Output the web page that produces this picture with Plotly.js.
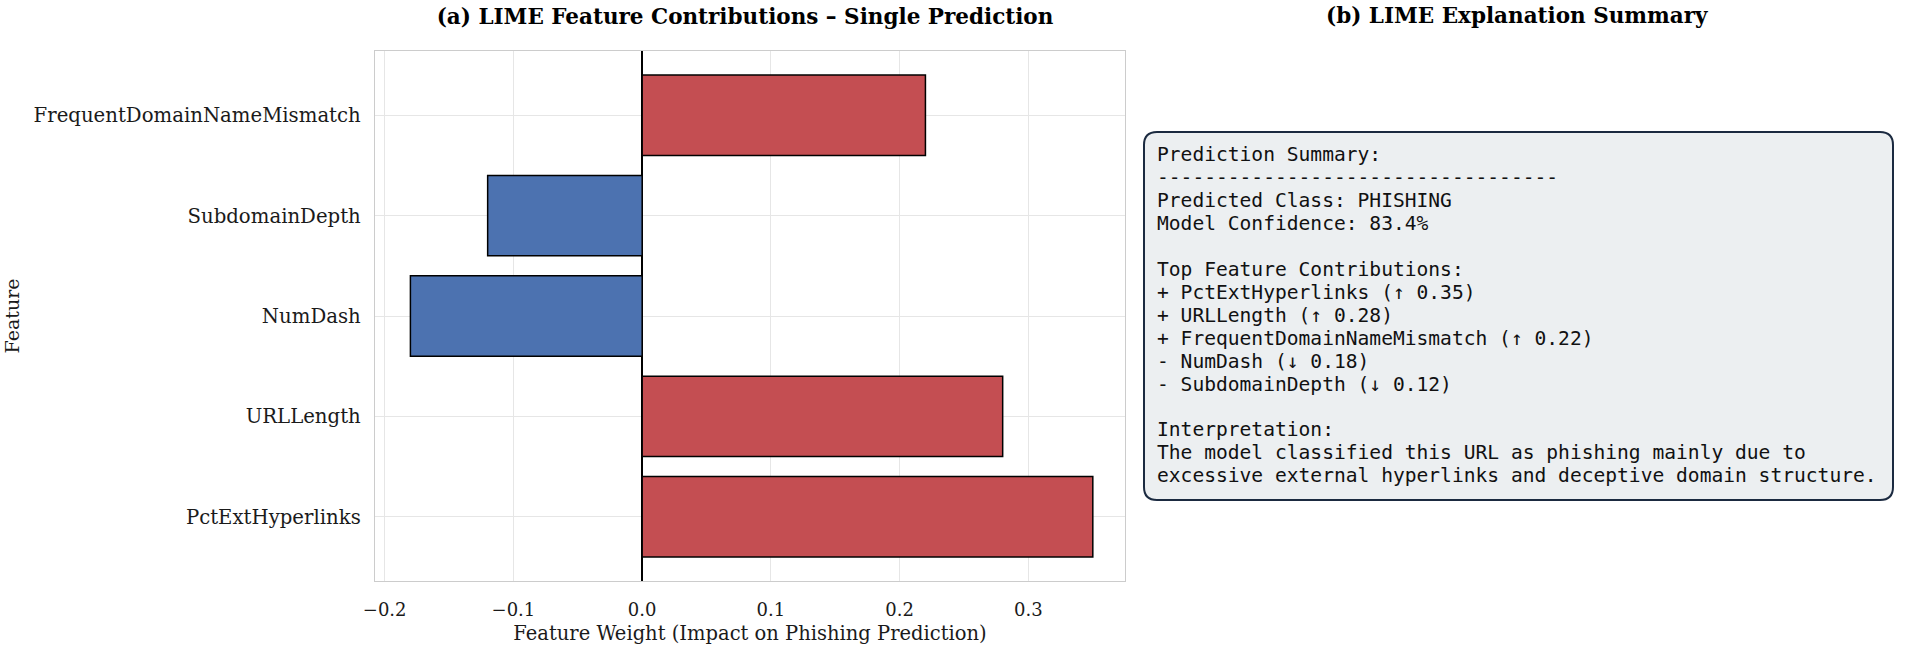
<!DOCTYPE html>
<html>
<head>
<meta charset="utf-8">
<script src="https://cdn.plot.ly/plotly-3.0.1.min.js"></script>
<style>html,body{margin:0;padding:0;background:#fff;}#chart{width:1905px;height:651px;}</style>
</head>
<body>
<div id="chart"></div>
<script>
// ---- data ----
const features = ['PctExtHyperlinks', 'URLLength', 'NumDash', 'SubdomainDepth', 'FrequentDomainNameMismatch'];
const weights = [0.35, 0.28, -0.18, -0.12, 0.22];
const xTickVals = [-0.2, -0.1, 0.0, 0.1, 0.2, 0.3];
const xTickText = ['\u22120.2', '\u22120.1', '0.0', '0.1', '0.2', '0.3'];
const summaryLines = [
  'Prediction Summary:',
  '----------------------------------',
  'Predicted Class: PHISHING',
  'Model Confidence: 83.4%',
  '',
  'Top Feature Contributions:',
  '+ PctExtHyperlinks (\u2191 0.35)',
  '+ URLLength (\u2191 0.28)',
  '+ FrequentDomainNameMismatch (\u2191 0.22)',
  '- NumDash (\u2193 0.18)',
  '- SubdomainDepth (\u2193 0.12)',
  '',
  'Interpretation:',
  'The model classified this URL as phishing mainly due to',
  'excessive external hyperlinks and deceptive domain structure.'
];

// ---- layout geometry (pixels) ----
const W = 1905, H = 651;
const PL = 375, PR = 1125, PT = 51, PB = 581;
const pw = PR - PL, ph = PB - PT;
const px2x = p => (p - PL) / pw;
const px2y = p => (PB - p) / ph;

const RED = '#C44E52', BLUE = '#4C72B0';
const serif = 'DejaVu Serif, serif';
const mono = 'DejaVu Sans Mono, monospace';

const trace = {
  type: 'bar',
  orientation: 'h',
  y: features,
  x: weights,
  width: 0.8,
  marker: {
    color: weights.map(v => v >= 0 ? RED : BLUE),
    line: {color: '#000', width: 1.5}
  },
  hoverinfo: 'x+y'
};

// rounded box shape
const bx0 = 1144, bx1 = 1893, by0 = 132, by1 = 500, r = 13;
function P(x, y) { return px2x(x).toFixed(5) + ',' + px2y(y).toFixed(5); }
const boxPath = 'M ' + P(bx0 + r, by0) + ' L ' + P(bx1 - r, by0) + ' Q ' + P(bx1, by0) + ' ' + P(bx1, by0 + r) +
  ' L ' + P(bx1, by1 - r) + ' Q ' + P(bx1, by1) + ' ' + P(bx1 - r, by1) +
  ' L ' + P(bx0 + r, by1) + ' Q ' + P(bx0, by1) + ' ' + P(bx0, by1 - r) +
  ' L ' + P(bx0, by0 + r) + ' Q ' + P(bx0, by0) + ' ' + P(bx0 + r, by0) + ' Z';

const annotations = [{
  text: '<b>(b) LIME Explanation Summary</b>',
  xref: 'paper', yref: 'paper', x: px2x(1517), y: px2y(16),
  xanchor: 'center', yanchor: 'middle', showarrow: false,
  font: {family: serif, size: 21.5, color: '#000'}
}];
const line0 = 155, lineStep = 22.9;
summaryLines.forEach((t, i) => {
  if (!t) return;
  annotations.push({
    text: t.replace(/ /g, '\u00a0'),
    xref: 'paper', yref: 'paper', x: px2x(1155), y: px2y(line0 + i * lineStep),
    xanchor: 'left', yanchor: 'middle', showarrow: false,
    font: {family: mono, size: 19.6, color: '#111'}
  });
});

const layout = {
  width: W, height: H,
  margin: {l: PL, r: W - PR, t: PT, b: H - PB, pad: 0},
  paper_bgcolor: '#fff', plot_bgcolor: '#fff',
  showlegend: false,
  bargap: 0.2,
  title: {
    text: '<b>(a) LIME Feature Contributions \u2013 Single Prediction</b>',
    xref: 'paper', x: px2x(745), xanchor: 'center',
    yref: 'container', y: 1 - 16 / H, yanchor: 'middle',
    font: {family: serif, size: 21.5, color: '#000'}
  },
  xaxis: {
    range: [-0.2075, 0.375],
    tickvals: xTickVals, ticktext: xTickText,
    ticks: '', ticklabelstandoff: 12,
    showgrid: true, gridcolor: '#e6e6e6', gridwidth: 1,
    zeroline: true, zerolinecolor: '#000', zerolinewidth: 1.5,
    showline: true, mirror: true, linecolor: '#cccccc', linewidth: 1.3,
    tickfont: {family: serif, size: 18, color: '#1a1a1a'},
    title: {text: 'Feature Weight (Impact on Phishing Prediction)', standoff: 7,
      font: {family: serif, size: 19.5, color: '#1a1a1a'}},
    automargin: false
  },
  yaxis: {
    type: 'category',
    range: [-0.64, 4.64],
    ticks: '', ticklabelstandoff: 9,
    showgrid: true, gridcolor: '#e6e6e6', gridwidth: 1,
    showline: true, mirror: true, linecolor: '#cccccc', linewidth: 1.3,
    tickfont: {family: serif, size: 19.7, color: '#1a1a1a'},
    title: {text: 'Feature', standoff: 9, font: {family: serif, size: 19, color: '#1a1a1a'}},
    automargin: false
  },
  shapes: [{
    type: 'path', xref: 'paper', yref: 'paper', path: boxPath,
    fillcolor: '#ECEFF1', line: {color: '#1B2A40', width: 2}, layer: 'below'
  }],
  annotations: annotations
};

Plotly.newPlot('chart', [trace], layout, {displayModeBar: false, staticPlot: true});
</script>
</body>
</html>
